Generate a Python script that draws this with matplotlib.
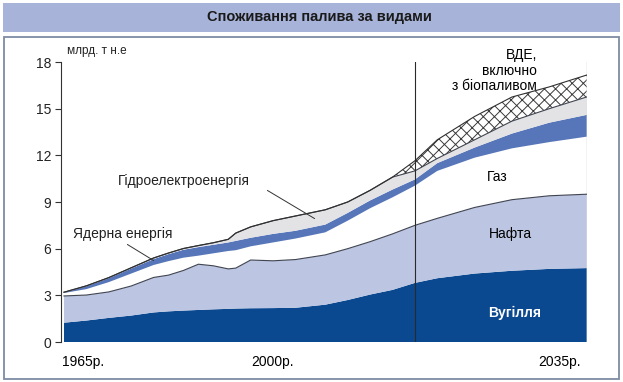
import numpy as np
import matplotlib
matplotlib.use("Agg")
import matplotlib.pyplot as plt
from matplotlib.patches import Rectangle

plt.rcParams['font.family'] = ['Liberation Sans', 'DejaVu Sans']
plt.rcParams['hatch.linewidth'] = 0.7

# Дані (млрд. т н.е.)
years = [1965, 1968, 1971, 1974, 1977, 1979, 1981, 1983, 1985, 1987, 1988, 1990,
         1993, 1996, 2000, 2003, 2006, 2009, 2012, 2015, 2020, 2025, 2030, 2035]
coal = [1.24, 1.38, 1.55, 1.70, 1.90, 1.97, 2.02, 2.06, 2.10, 2.13, 2.15, 2.17,
        2.18, 2.20, 2.40, 2.70, 3.05, 3.35, 3.80, 4.10, 4.40, 4.58, 4.70, 4.75]
oil = [1.72, 1.64, 1.67, 1.90, 2.25, 2.33, 2.58, 2.94, 2.80, 2.57, 2.60, 3.10,
       3.04, 3.10, 3.20, 3.30, 3.40, 3.60, 3.70, 3.85, 4.25, 4.57, 4.70, 4.75]
gas = [0.19, 0.38, 0.63, 0.80, 0.80, 0.90, 0.82, 0.55, 0.80, 1.15, 1.15, 0.88,
       1.18, 1.35, 1.45, 1.80, 2.15, 2.35, 2.55, 3.05, 3.20, 3.30, 3.45, 3.70]
nuclear = [0.02, 0.18, 0.25, 0.32, 0.38, 0.45, 0.51, 0.55, 0.55, 0.55, 0.60, 0.55,
           0.55, 0.50, 0.50, 0.50, 0.50, 0.50, 0.40, 0.50, 0.65, 0.95, 1.25, 1.40]
hydro = [0.03, 0.03, 0.04, 0.05, 0.07, 0.07, 0.08, 0.10, 0.13, 0.20, 0.50, 0.70,
         0.85, 0.95, 0.95, 0.70, 0.65, 0.80, 0.55, 0.30, 0.50, 0.80, 0.90, 1.15]
renew = [0, 0, 0, 0, 0, 0, 0, 0, 0, 0, 0, 0,
         0, 0, 0, 0, 0, 0, 0.65, 1.20, 1.50, 1.55, 1.40, 1.41]

yticks = [0, 3, 6, 9, 12, 15, 18]
split_year = 2012

W, H = 623, 382
fig = plt.figure(figsize=(W / 100, H / 100), dpi=100)

# Рамки: заголовок і контур
fig.patches.append(Rectangle((3 / W, 1 - 32 / H), 617 / W, 29 / H, transform=fig.transFigure,
                             facecolor='#a7b3d9', edgecolor='none', zorder=-10))
fig.patches.append(Rectangle((4 / W, 1 - 379 / H), 615 / W, 342 / H, transform=fig.transFigure,
                             facecolor='white', edgecolor='#7d8ba3', linewidth=1.3, zorder=-10))
fig.text(319 / W, 1 - 17 / H, 'Споживання палива за видами', ha='center', va='center',
         fontsize=10.5, fontweight='bold', color='#1a1a1a')

ax = fig.add_axes([61 / W, 1 - 342 / H, 526 / W, 280 / H])
ax.set_facecolor('none')

polys = ax.stackplot(years, coal, oil, gas, nuclear, hydro, renew,
                     colors=['#0a4890', '#bcc5e1', 'white', '#5676b9', '#e3e3e6', 'white'],
                     linewidth=0)
polys[-1].set_hatch('xxx')
polys[-1].set_edgecolor('#3a3a3a')

c = np.cumsum([coal, oil, gas, nuclear, hydro, renew], axis=0)
ax.plot(years, c[1], color='#404550', lw=0.8)
ax.plot(years, c[4], color='#404550', lw=0.8)
ax.plot(years, c[5], color='#303030', lw=0.8)

ax.plot([split_year, split_year], [0, 18], color='#2a2a2a', lw=0.8)
ax.plot([2035, 2035], [0, 18], color='#2a2a2a', lw=0.8)

ax.set_xlim(1964.6, 2035.05)
ax.set_ylim(0, 18)
for s in ['top', 'right', 'bottom']:
    ax.spines[s].set_visible(False)
ax.spines['left'].set_color('#333333')
ax.spines['left'].set_linewidth(0.8)
ax.set_xticks([])
ax.set_yticks(yticks)
ax.tick_params(axis='y', length=4, width=0.8, color='#333333', labelsize=10, labelcolor='#222222', pad=3)

ax.text(67 / W, 1 - 51 / H, 'млрд. т н.е', transform=fig.transFigure, fontsize=8.5,
        va='center', ha='left', color='#222222')

# Підписи осі X
ax.text(62 / W, 1 - 362 / H, '1965р.', transform=fig.transFigure, fontsize=10, ha='left', va='center')
ax.text(273 / W, 1 - 362 / H, '2000р.', transform=fig.transFigure, fontsize=10, ha='center', va='center')
ax.text(581 / W, 1 - 362 / H, '2035р.', transform=fig.transFigure, fontsize=10, ha='right', va='center')

# Підписи шарів
ax.text(184 / W, 1 - 181 / H, 'Гідроелектроенергія', transform=fig.transFigure, fontsize=10,
        ha='center', va='center', color='#222222')
ax.annotate('', xy=(317 / W, 1 - 220 / H), xytext=(265 / W, 1 - 189 / H),
            xycoords='figure fraction', textcoords='figure fraction',
            arrowprops=dict(arrowstyle='-', color='#333333', lw=0.7))
ax.text(123 / W, 1 - 234 / H, 'Ядерна енергія', transform=fig.transFigure, fontsize=10,
        ha='center', va='center', color='#222222')
ax.annotate('', xy=(156 / W, 1 - 262 / H), xytext=(125 / W, 1 - 243 / H),
            xycoords='figure fraction', textcoords='figure fraction',
            arrowprops=dict(arrowstyle='-', color='#333333', lw=0.7))
ax.text(537 / W, 1 - 55 / H, 'ВДЕ,', transform=fig.transFigure, fontsize=10, ha='right', va='center')
ax.text(537 / W, 1 - 71 / H, 'включно', transform=fig.transFigure, fontsize=10, ha='right', va='center')
ax.text(537 / W, 1 - 86 / H, 'з біопаливом', transform=fig.transFigure, fontsize=10, ha='right', va='center')
ax.text(497 / W, 1 - 177 / H, 'Газ', transform=fig.transFigure, fontsize=10, ha='center', va='center')
ax.text(510 / W, 1 - 234 / H, 'Нафта', transform=fig.transFigure, fontsize=10, ha='center', va='center')
ax.text(515 / W, 1 - 313 / H, 'Вугілля', transform=fig.transFigure, fontsize=10, ha='center',
        va='center', color='white', fontweight='bold')

fig.savefig('out.png', dpi=100)
